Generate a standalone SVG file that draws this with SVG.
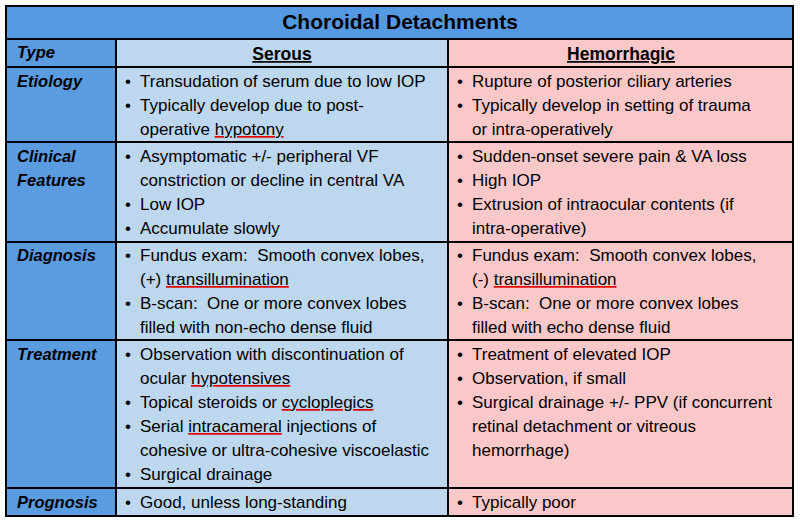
<svg xmlns="http://www.w3.org/2000/svg" width="800" height="523" viewBox="0 0 800 523">
<style>
text{font-family:"Liberation Sans",Arial,sans-serif;font-size:17px;fill:#000}
.h{font-weight:bold;font-style:italic;font-size:16.5px}
.t{font-weight:bold;font-size:21px}
.c{font-weight:bold;font-size:17.5px;text-decoration:underline}
.sp{fill:#e00000;text-decoration:underline}
.sp tspan{fill:#000}
.ln{stroke:#000;stroke-width:2;fill:none}
</style>
<rect x="0" y="0" width="800" height="523" fill="#fff"/>
<g id="backgrounds">
<rect x="6" y="6" width="787" height="33" fill="#5599e3"/>
<rect x="6" y="39" width="110" height="477" fill="#5b9be0"/>
<rect x="116" y="39" width="332" height="477" fill="#bdd7ee"/>
<rect x="448" y="39" width="345" height="477" fill="#fbc8ca"/>
</g>
<g id="connectors">
<rect class="ln" x="6" y="6" width="787" height="510"/>
<path class="ln" d="M6 39H793M6 67H793M6 142H793M6 242H793M6 340H793M6 488H793M116 39V516M448 39V516"/>
</g>
<g id="title"><text class="t" x="400" y="29" text-anchor="middle">Choroidal Detachments</text></g>
<g id="header">
<text class="h" x="17" y="58">Type</text>
<text class="c" x="282" y="60" text-anchor="middle">Serous</text>
<text class="c" x="621" y="60" text-anchor="middle">Hemorrhagic</text>
</g>
<g id="etiology">
<text class="h" x="17" y="87">Etiology</text>
<text x="125" y="87">•</text><text x="140" y="87">Transudation of serum due to low IOP</text>
<text x="125" y="111">•</text><text x="140" y="111">Typically develop due to post-</text>
<text x="140" y="135">operative <tspan class="sp"><tspan>hypotony</tspan></tspan></text>
<text x="457" y="87">•</text><text x="472" y="87">Rupture of posterior ciliary arteries</text>
<text x="457" y="111">•</text><text x="472" y="111">Typically develop in setting of trauma</text>
<text x="472" y="135">or intra-operatively</text>
</g>
<g id="clinical">
<text class="h" x="17" y="162">Clinical</text>
<text class="h" x="17" y="186">Features</text>
<text x="125" y="162">•</text><text x="140" y="162">Asymptomatic +/- peripheral VF</text>
<text x="140" y="186">constriction or decline in central VA</text>
<text x="125" y="210">•</text><text x="140" y="210">Low IOP</text>
<text x="125" y="234">•</text><text x="140" y="234">Accumulate slowly</text>
<text x="457" y="162">•</text><text x="472" y="162">Sudden-onset severe pain &amp; VA loss</text>
<text x="457" y="186">•</text><text x="472" y="186">High IOP</text>
<text x="457" y="210">•</text><text x="472" y="210">Extrusion of intraocular contents (if</text>
<text x="472" y="234">intra-operative)</text>
</g>
<g id="diagnosis">
<text class="h" x="17" y="261">Diagnosis</text>
<text x="125" y="261">•</text><text x="140" y="261" xml:space="preserve">Fundus exam:  Smooth convex lobes,</text>
<text x="140" y="285">(+) <tspan class="sp"><tspan>transillumination</tspan></tspan></text>
<text x="125" y="309">•</text><text x="140" y="309" xml:space="preserve">B-scan:  One or more convex lobes</text>
<text x="140" y="333">filled with non-echo dense fluid</text>
<text x="457" y="261">•</text><text x="472" y="261" xml:space="preserve">Fundus exam:  Smooth convex lobes,</text>
<text x="472" y="285">(-) <tspan class="sp"><tspan>transillumination</tspan></tspan></text>
<text x="457" y="309">•</text><text x="472" y="309" xml:space="preserve">B-scan:  One or more convex lobes</text>
<text x="472" y="333">filled with echo dense fluid</text>
</g>
<g id="treatment">
<text class="h" x="17" y="360">Treatment</text>
<text x="125" y="360">•</text><text x="140" y="360">Observation with discontinuation of</text>
<text x="140" y="384">ocular <tspan class="sp"><tspan>hypotensives</tspan></tspan></text>
<text x="125" y="408">•</text><text x="140" y="408">Topical steroids or <tspan class="sp"><tspan>cycloplegics</tspan></tspan></text>
<text x="125" y="432">•</text><text x="140" y="432">Serial <tspan class="sp"><tspan>intracameral</tspan></tspan> injections of</text>
<text x="140" y="456">cohesive or ultra-cohesive viscoelastic</text>
<text x="125" y="480">•</text><text x="140" y="480">Surgical drainage</text>
<text x="457" y="360">•</text><text x="472" y="360">Treatment of elevated IOP</text>
<text x="457" y="384">•</text><text x="472" y="384">Observation, if small</text>
<text x="457" y="408">•</text><text x="472" y="408">Surgical drainage +/- PPV (if concurrent</text>
<text x="472" y="432">retinal detachment or vitreous</text>
<text x="472" y="456">hemorrhage)</text>
</g>
<g id="prognosis">
<text class="h" x="17" y="508">Prognosis</text>
<text x="125" y="508">•</text><text x="140" y="508">Good, unless long-standing</text>
<text x="457" y="508">•</text><text x="472" y="508">Typically poor</text>
</g>
</svg>
